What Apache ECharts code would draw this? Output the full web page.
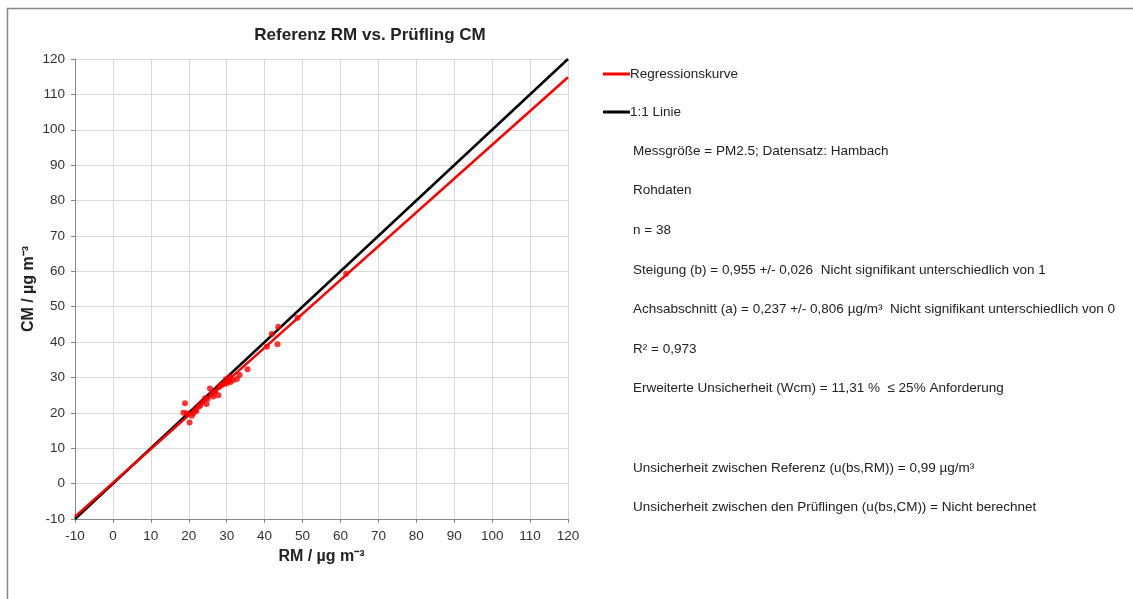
<!DOCTYPE html>
<html>
<head>
<meta charset="utf-8">
<script src="https://cdn.jsdelivr.net/npm/echarts@6/dist/echarts.min.js"></script>
<style>
html, body { margin: 0; padding: 0; background: #fff; }
#chart { width: 1133px; height: 599px; }
</style>
</head>
<body>
<div id="chart"></div>
<script>
// Messwerte: Referenz RM (x) gegen Prüfling CM (y), µg/m³
const rmValues = [18.6, 19.0, 19.5, 20.2, 21.2, 21.7, 22.5, 22.0, 23.0, 24.3,
  24.7, 25.6, 26.5, 27.8, 26.0, 27.0, 28.0, 28.5, 29.0, 29.5,
  30.0, 30.5, 31.0, 31.7, 32.7, 33.4, 35.5, 40.6, 41.9, 43.4,
  43.6, 48.7, 61.5, 23.5, 25.0, 29.8, 30.8, 20.8];
const cmValues = [20.0, 22.7, 19.9, 17.3, 19.9, 20.8, 21.7, 20.5, 22.0, 24.1,
  22.5, 26.9, 24.6, 25.0, 25.5, 26.0, 27.3, 27.8, 28.0, 28.5,
  28.3, 29.0, 28.7, 29.3, 29.6, 30.7, 32.3, 38.7, 42.3, 39.4,
  44.3, 46.9, 59.3, 23.0, 24.0, 29.5, 30.2, 19.2];

// Regression y = b*x + a
const slope = 0.955;
const intercept = 0.237;
const lineX = [-10, 120];

const axisTicks = { min: -10, max: 120, step: 10 };

const infoLines = [
  'Messgröße = PM2.5; Datensatz: Hambach',
  'Rohdaten',
  'n = 38',
  'Steigung (b) = 0,955 +/- 0,026  Nicht signifikant unterschiedlich von 1',
  'Achsabschnitt (a) = 0,237 +/- 0,806 µg/m³  Nicht signifikant unterschiedlich von 0',
  'R² = 0,973',
  'Erweiterte Unsicherheit (Wcm) = 11,31 %  ≤ 25% Anforderung',
  '',
  'Unsicherheit zwischen Referenz (u(bs,RM)) = 0,99 µg/m³',
  'Unsicherheit zwischen den Prüflingen (u(bs,CM)) = Nicht berechnet'
];

const scatterData = rmValues.map((x, i) => [x, cmValues[i]]);
const regData = lineX.map(x => [x, slope * x + intercept]);
const oneToOne = lineX.map(x => [x, x]);

const font = 'Liberation Sans, Arial, sans-serif';

const infoGraphics = infoLines.map((t, i) => ({
  type: 'text',
  left: 633,
  top: 144 + i * 39.6,
  style: { text: t, font: '13.5px ' + font, fill: '#222' }
}));

const chart = echarts.init(document.getElementById('chart'));

function valueAxis(name, gap, rotate) {
  return {
    type: 'value',
    min: axisTicks.min,
    max: axisTicks.max,
    interval: axisTicks.step,
    name: name,
    nameLocation: 'middle',
    nameGap: gap,
    nameRotate: rotate,
    nameTextStyle: { fontFamily: font, fontSize: 16, fontWeight: 'bold', color: '#222' },
    axisLine: { show: true, onZero: false, lineStyle: { color: '#888', width: 1 } },
    axisTick: { show: true, length: 4, lineStyle: { color: '#888' } },
    axisLabel: { fontFamily: font, fontSize: 13.5, color: '#333', margin: 10 },
    splitLine: { show: true, lineStyle: { color: '#d9d9d9', width: 1 } }
  };
}

chart.setOption({
  animation: false,
  backgroundColor: '#fff',
  title: {
    text: 'Referenz RM vs. Prüfling CM',
    left: 365,
    textAlign: 'center',
    top: 22,
    textStyle: { fontFamily: font, fontSize: 17, fontWeight: 'bold', color: '#222' }
  },
  grid: { left: 75, top: 59, right: 565, bottom: 80 },
  xAxis: valueAxis('RM / µg m⁻³', 30, 0),
  yAxis: valueAxis('CM / µg m⁻³', 38, 90),
  legend: {
    orient: 'vertical',
    left: 598,
    top: 62,
    itemWidth: 27,
    itemHeight: 3,
    itemGap: 24,
    icon: 'rect',
    textStyle: { fontFamily: font, fontSize: 13.5, color: '#222', padding: [0, 0, 0, -5] },
    data: ['Regressionskurve', '1:1 Linie']
  },
  graphic: [
    {
      type: 'rect',
      left: 5,
      top: 6,
      shape: { width: 1200, height: 700 },
      style: { fill: 'none', stroke: '#888', lineWidth: 1.5 },
      z: 100
    }
  ].concat(infoGraphics),
  series: [
    {
      name: 'Messwerte',
      type: 'scatter',
      data: scatterData,
      symbolSize: 6,
      itemStyle: { color: '#ff0000' },
      z: 3
    },
    {
      name: '1:1 Linie',
      type: 'line',
      data: oneToOne,
      showSymbol: false,
      lineStyle: { color: '#000', width: 2.5 },
      itemStyle: { color: '#000' },
      z: 2
    },
    {
      name: 'Regressionskurve',
      type: 'line',
      data: regData,
      showSymbol: false,
      lineStyle: { color: '#ff0000', width: 2.5 },
      itemStyle: { color: '#ff0000' },
      z: 4
    }
  ]
});
</script>
</body>
</html>
